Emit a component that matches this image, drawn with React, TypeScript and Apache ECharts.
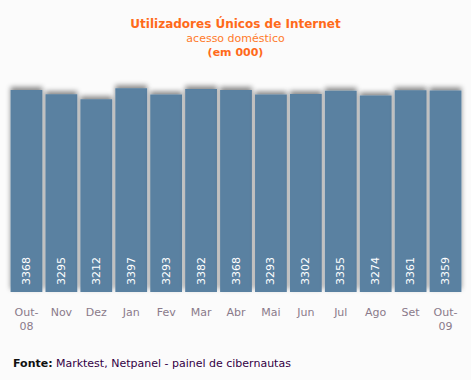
import React, { useEffect, useRef } from "react";
import * as echarts from "echarts";

const categories = ["Out-\n08", "Nov", "Dez", "Jan", "Fev", "Mar", "Abr", "Mai", "Jun", "Jul", "Ago", "Set", "Out-\n09"];
const values = [3368, 3295, 3212, 3397, 3293, 3382, 3368, 3293, 3302, 3355, 3274, 3361, 3359];

const FONT = "DejaVu Sans, Verdana, sans-serif";

export default function App() {
  const ref = useRef<HTMLDivElement>(null);
  useEffect(() => {
    if (!ref.current) return;
    const chart = echarts.init(ref.current, null, { renderer: "svg" });
    chart.setOption({
      animation: false,
      backgroundColor: "#fbfbfb",
      title: [
        {
          text: "Utilizadores Únicos de Internet",
          left: "center",
          top: 13,
          textStyle: { color: "#ff6a1a", fontSize: 12, fontWeight: "bold", fontFamily: FONT },
        },
        {
          text: "acesso doméstico",
          left: "center",
          top: 28,
          textStyle: { color: "#ff7a2a", fontSize: 11, fontWeight: "normal", fontFamily: FONT },
        },
        {
          text: "(em 000)",
          left: "center",
          top: 42,
          textStyle: { color: "#ff6a1a", fontSize: 11, fontWeight: "bold", fontFamily: FONT },
        },
      ],
      graphic: [
        {
          type: "text",
          left: 13,
          top: 357,
          style: {
            text: "{b|Fonte:} {n|Marktest, Netpanel - painel de cibernautas}",
            rich: {
              b: { fontWeight: "bold", fill: "#111111", fontSize: 11, fontFamily: FONT },
              n: { fill: "#330044", fontSize: 11, fontFamily: FONT },
            },
          },
        },
      ],
      grid: { left: 9, right: 8, top: 52, bottom: 88, containLabel: false },
      xAxis: {
        type: "category",
        data: categories,
        axisLine: { show: false },
        axisTick: { show: false },
        axisLabel: {
          color: "#8a7a8a",
          fontSize: 11,
          fontFamily: FONT,
          margin: 13,
          interval: 0,
          lineHeight: 14,
        },
      },
      yAxis: {
        type: "value",
        min: 0,
        max: 4000,
        show: false,
        splitLine: { show: false },
      },
      series: [
        {
          type: "bar",
          data: values,
          barCategoryGap: "9%",
          itemStyle: {
            color: "#5a81a1",
            shadowColor: "rgba(0,0,0,0.45)",
            shadowBlur: 5,
            shadowOffsetY: -3,
          },
          label: {
            show: true,
            position: "insideBottom",
            rotate: 90,
            align: "left",
            verticalAlign: "middle",
            distance: 7,
            color: "#ffffff",
            fontSize: 11,
            fontFamily: FONT,
          },
        },
      ],
    });
    return () => chart.dispose();
  }, []);
  return (
    <div
      ref={ref}
      style={{ position: "absolute", left: 0, top: 0, width: 471, height: 380 }}
    />
  );
}
